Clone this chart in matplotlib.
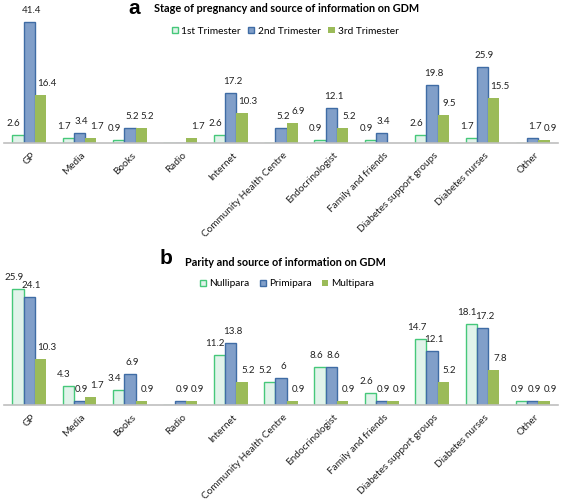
import matplotlib
matplotlib.use('Agg')
import matplotlib.pyplot as plt
import numpy as np
from matplotlib.patches import Patch

plt.rcParams['font.family'] = ['Lato', 'DejaVu Sans']

sources = ['GP', 'Media', 'Books', 'Radio', 'Internet', 'Community Health Centre',
           'Endocrinologist', 'Family and friends', 'Diabetes support groups',
           'Diabetes nurses', 'Other']

# panel a: stage of pregnancy (0 = no bar / no label)
trim1 = [2.6, 1.7, 0.9, 0, 2.6, 0, 0.9, 0.9, 2.6, 1.7, 0]
trim2 = [41.4, 3.4, 5.2, 0, 17.2, 5.2, 12.1, 3.4, 19.8, 25.9, 1.7]
trim3 = [16.4, 1.7, 5.2, 1.7, 10.3, 6.9, 5.2, 0, 9.5, 15.5, 0.9]

# panel b: parity
nulli = [25.9, 4.3, 3.4, 0, 11.2, 5.2, 8.6, 2.6, 14.7, 18.1, 0.9]
primi = [24.1, 0.9, 6.9, 0.9, 13.8, 6, 8.6, 0.9, 12.1, 17.2, 0.9]
multi = [10.3, 1.7, 0.9, 0.9, 5.2, 0.9, 0.9, 0.9, 5.2, 7.8, 0.9]

W, H = 567, 500
fig = plt.figure(figsize=(W / 100, H / 100), dpi=100)

light_fill, light_edge = '#e1f3ea', '#46c87a'
blue_fill, blue_edge = '#819fc9', '#3f6ca5'
green_fill = '#9bbb59'


def px_axes(left, top, right, bottom):
    return fig.add_axes([left / W, 1 - bottom / H, (right - left) / W, (bottom - top) / H])


def draw_panel(ax, series, labels, ymax, colspace):
    x = np.arange(len(sources))
    w = 0.224
    styles = [(light_fill, light_edge, 1.0), (blue_fill, blue_edge, 1.0), (green_fill, 'none', 0)]
    label_shift = [-3, 1.5, 4.5]
    for i, (vals, (fc, ec, lw)) in enumerate(zip(series, styles)):
        vals = np.array(vals, dtype=float)
        xs = x + (i - 1) * w
        ax.bar(xs, vals, w, color=fc, edgecolor=ec, linewidth=lw, zorder=2)
        for xi, v in zip(xs, vals):
            if v > 0:
                ax.annotate(f'{v:g}', (xi, v), xytext=(label_shift[i], 5),
                            textcoords='offset points', ha='center', va='bottom',
                            fontsize=7.0, color='#222222')
    ax.set_xlim(-0.5, len(sources) - 0.5)
    ax.set_ylim(0, ymax)
    ax.set_xticks(x + 0.03)
    ax.set_xticklabels(sources, rotation=45, ha='right', va='top', rotation_mode='anchor',
                       fontsize=7.2, color='#222222')
    ax.tick_params(axis='x', length=0, pad=5.5)
    ax.set_yticks([])
    for s in ['top', 'right', 'left']:
        ax.spines[s].set_visible(False)
    ax.spines['bottom'].set_color('#bfbfbf')
    ax.spines['bottom'].set_linewidth(1.2)
    ax.legend(handles=[Patch(facecolor=light_fill, edgecolor=light_edge, label=labels[0]),
                       Patch(facecolor=blue_fill, edgecolor=blue_edge, label=labels[1]),
                       Patch(facecolor=green_fill, edgecolor='none', label=labels[2])],
              loc='center', ncol=3, frameon=False, fontsize=7.3,
              handlelength=0.6, handleheight=0.6, handletextpad=0.3, columnspacing=colspace,
              borderaxespad=0)


# panel a
ax1 = px_axes(4, 10, 558, 143)
draw_panel(ax1, [trim1, trim2, trim3], ['1st Trimester', '2nd Trimester', '3rd Trimester'],
           45.4, 0.8)
ax1.get_legend().set_bbox_to_anchor((285 / W, 1 - 31 / H), transform=fig.transFigure)
fig.text(134 / W, 1 - 8 / H, 'a', fontsize=15, fontweight='bold', ha='center', va='center',
         family='Liberation Sans')
fig.text(154 / W, 1 - 8 / H, 'Stage of pregnancy and source of information on GDM',
         fontsize=7.8, fontweight='bold', ha='left', va='center')

# panel b
ax2 = px_axes(4, 270, 558, 405)
draw_panel(ax2, [nulli, primi, multi], ['Nullipara', 'Primipara', 'Multipara'], 30.2, 1.0)
ax2.get_legend().set_bbox_to_anchor((287 / W, 1 - 284 / H), transform=fig.transFigure)
fig.text(166 / W, 1 - 259 / H, 'b', fontsize=15, fontweight='bold', ha='center', va='center',
         family='Liberation Sans')
fig.text(185 / W, 1 - 262 / H, 'Parity and source of information on GDM',
         fontsize=7.8, fontweight='bold', ha='left', va='center')

fig.savefig('out.png', dpi=100)
